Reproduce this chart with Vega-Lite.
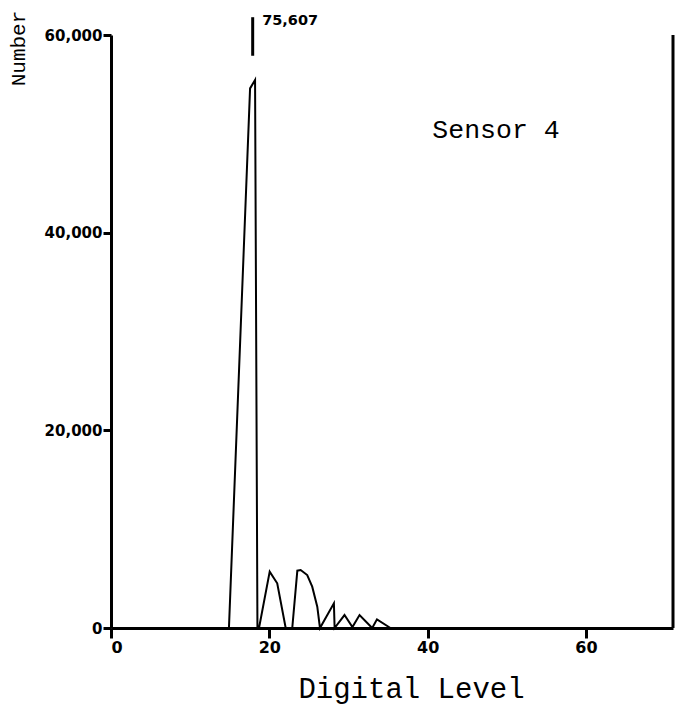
{
  "$schema": "https://vega.github.io/schema/vega-lite/v6.json",
  "width": 562,
  "height": 593,
  "autosize": "none",
  "padding": {"left": 111, "top": 35, "right": 16, "bottom": 82},
  "background": "white",
  "config": {"view": {"stroke": null}},
  "datasets": {
    "hist": [
      {"level": 14.9, "count": 0},
      {"level": 17.57, "count": 54600},
      {"level": 18.2, "count": 55450},
      {"level": 18.5, "count": 0},
      {"level": 18.7, "count": 0},
      {"level": 20.05, "count": 5700},
      {"level": 21.0, "count": 4520},
      {"level": 22.07, "count": 0},
      {"level": 22.9, "count": 0},
      {"level": 23.54, "count": 5800},
      {"level": 23.96, "count": 5870},
      {"level": 24.79, "count": 5360},
      {"level": 25.42, "count": 4180},
      {"level": 26.06, "count": 2160},
      {"level": 26.4, "count": 0},
      {"level": 28.16, "count": 2500},
      {"level": 28.25, "count": 0},
      {"level": 29.5, "count": 1310},
      {"level": 30.5, "count": 100},
      {"level": 31.4, "count": 1310},
      {"level": 33.0, "count": 0},
      {"level": 33.6, "count": 880},
      {"level": 35.3, "count": 0}
    ],
    "one": [{}]
  },
  "layer": [
    {
      "data": {"name": "hist"},
      "mark": {"type": "line", "color": "black", "strokeWidth": 2, "clip": false},
      "encoding": {
        "x": {
          "field": "level", "type": "quantitative",
          "scale": {"domain": [0, 71], "nice": false, "zero": false},
          "axis": {
            "title": "Digital Level",
            "values": [0, 20, 40, 60],
            "grid": false,
            "domainColor": "black", "domainWidth": 3,
            "tickColor": "black", "tickWidth": 3, "tickSize": 10,
            "labelFont": "DejaVu Sans", "labelFontWeight": "bold", "labelFontSize": 16,
            "labelColor": "black", "labelPadding": 1,
            "titleFont": "Liberation Mono", "titleFontSize": 29, "titleFontWeight": "normal",
            "titleColor": "black",
            "titleX": 300, "titleY": 60, "titleAlign": "center", "titleBaseline": "middle"
          }
        },
        "y": {
          "field": "count", "type": "quantitative",
          "scale": {"domain": [0, 60000], "nice": false},
          "axis": {
            "title": "Number",
            "values": [0, 20000, 40000, 60000],
            "format": ",d",
            "grid": false,
            "domainColor": "black", "domainWidth": 3,
            "tickColor": "black", "tickWidth": 3, "tickSize": 8,
            "labelFont": "DejaVu Sans", "labelFontWeight": "bold", "labelFontSize": 15,
            "labelColor": "black", "labelPadding": 1,
            "titleFont": "Liberation Mono", "titleFontSize": 21, "titleFontWeight": "normal",
            "titleColor": "black",
            "titleX": -93, "titleY": 13, "titleAngle": -90, "titleAlign": "center", "titleBaseline": "middle"
          }
        }
      }
    },
    {
      "data": {"name": "one"},
      "mark": {"type": "rule", "color": "black", "strokeWidth": 3},
      "encoding": {
        "x": {"datum": 71, "type": "quantitative"},
        "y": {"datum": 0, "type": "quantitative"},
        "y2": {"datum": 60000}
      }
    },
    {
      "data": {"name": "one"},
      "mark": {"type": "rule", "color": "black", "strokeWidth": 3, "clip": false},
      "encoding": {
        "x": {"datum": 17.9, "type": "quantitative"},
        "y": {"datum": 57900, "type": "quantitative"},
        "y2": {"datum": 61800}
      }
    },
    {
      "data": {"name": "one"},
      "mark": {"type": "text", "text": "75,607", "font": "DejaVu Sans", "fontWeight": "bold", "fontSize": 14.5, "align": "left", "baseline": "middle", "color": "black", "clip": false},
      "encoding": {
        "x": {"datum": 19.1, "type": "quantitative"},
        "y": {"datum": 61400, "type": "quantitative"}
      }
    },
    {
      "data": {"name": "one"},
      "mark": {"type": "text", "text": "Sensor 4", "font": "Liberation Mono", "fontSize": 26.5, "align": "left", "baseline": "middle", "color": "black"},
      "encoding": {
        "x": {"datum": 40.6, "type": "quantitative"},
        "y": {"datum": 50400, "type": "quantitative"}
      }
    }
  ]
}
